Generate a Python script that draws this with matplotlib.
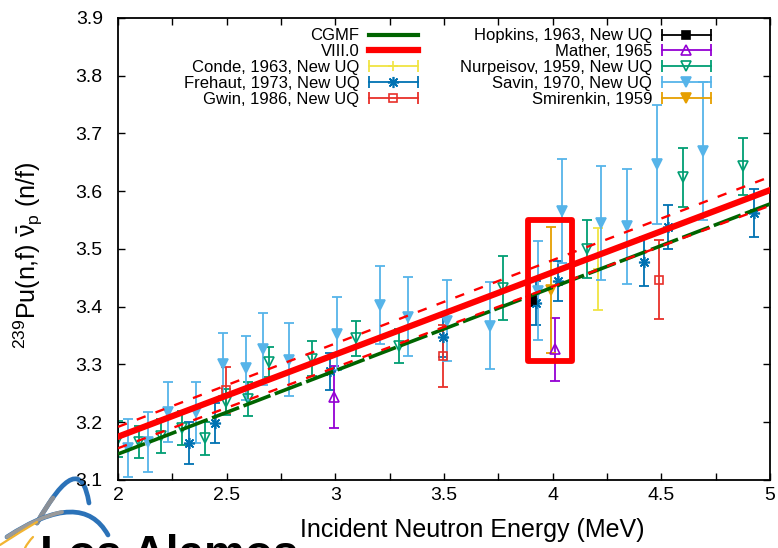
import numpy as np
import matplotlib.pyplot as plt
from matplotlib.lines import Line2D
from matplotlib.legend_handler import HandlerBase
from matplotlib.patches import Rectangle, PathPatch
from matplotlib.path import Path

plt.rcParams['font.family'] = ['Liberation Sans', 'DejaVu Sans']
plt.rcParams['mathtext.fontset'] = 'custom'
plt.rcParams['mathtext.rm'] = 'Liberation Sans'
plt.rcParams['mathtext.it'] = 'Liberation Sans:italic'

# evaluations (straight lines over 2-5 MeV)
e_line = [2.0, 5.0]
cgmf = [3.145, 3.578]
viii0 = [3.175, 3.602]
viii0_hi = [3.192, 3.625]
viii0_lo = [3.155, 3.575]

# experimental data: energy (MeV), nubar, uncertainty
conde_e = [4.209]
conde_v = [3.465]
conde_err = [0.071]

frehaut_e = [2.327, 2.447, 2.976, 3.496, 3.924, 4.025, 4.421, 4.531, 4.927]
frehaut_v = [3.164, 3.199, 3.288, 3.348, 3.407, 3.445, 3.478, 3.538, 3.562]
frehaut_err = [0.036, 0.035, 0.032, 0.035, 0.038, 0.035, 0.042, 0.038, 0.042]

gwin_e = [2.497, 3.496, 4.490]
gwin_v = [3.255, 3.315, 3.447]
gwin_err = [0.040, 0.054, 0.068]

hopkins_e = [3.905]
hopkins_v = [3.411]
hopkins_err = [0.010]

mather_e = [2.995, 4.011]
mather_v = [3.244, 3.326]
mather_err = [0.054, 0.055]

nurpeisov_e = [2.0, 2.097, 2.198, 2.295, 2.40, 2.497, 2.598, 2.695, 2.893,
               3.095, 3.293, 3.772, 4.158, 4.60, 4.876]
nurpeisov_v = [3.171, 3.166, 3.176, 3.190, 3.172, 3.235, 3.240, 3.304, 3.310,
               3.345, 3.332, 3.432, 3.500, 3.624, 3.643]
nurpeisov_err = [0.032, 0.028, 0.030, 0.030, 0.028, 0.022, 0.030, 0.026, 0.030,
                 0.030, 0.030, 0.055, 0.051, 0.051, 0.050]

savin_e = [2.046, 2.138, 2.230, 2.359, 2.483, 2.589, 2.667, 2.787, 3.008, 3.206,
           3.335, 3.514, 3.712, 3.933, 4.043, 4.223, 4.342, 4.480, 4.692]
savin_v = [3.155, 3.166, 3.218, 3.217, 3.300, 3.294, 3.327, 3.308, 3.353, 3.403,
           3.383, 3.376, 3.367, 3.428, 3.566, 3.545, 3.539, 3.647, 3.670]
savin_err = [0.050, 0.052, 0.052, 0.053, 0.055, 0.055, 0.063, 0.063, 0.063, 0.068,
             0.068, 0.070, 0.075, 0.085, 0.090, 0.099, 0.099, 0.103, 0.120]

smirenkin_e = [3.993]
smirenkin_v = [3.429]
smirenkin_err = [0.109]

# highlighted region
box_e = [3.885, 4.088]
box_v = [3.306, 3.550]


class HandlerHErr(HandlerBase):
    # gnuplot-like key sample: horizontal bar with end caps and a centre marker
    def create_artists(self, legend, orig, xdescent, ydescent, width, height,
                       fontsize, trans):
        y = height / 2 - ydescent
        x0, x1 = -xdescent, -xdescent + width
        c = orig.get_color()
        bar = Line2D([x0, x1], [y, y], color=c, lw=1.3)
        caps = Line2D([x0, x1], [y, y], ls='none', marker='|', ms=8, mew=1.3, color=c)
        mk = Line2D([(x0 + x1) / 2], [y], ls='none', marker=orig.get_marker(),
                    ms=orig.get_markersize(), mfc=orig.get_markerfacecolor(),
                    mec=c, mew=orig.get_markeredgewidth())
        for a in (bar, caps, mk):
            a.set_transform(trans)
        return [bar, caps, mk]


fig = plt.figure(figsize=(7.78, 5.48), dpi=100)
ax = fig.add_axes([0.1517, 0.1241, 0.838, 0.8431])

datasets = [
    ('Conde, 1963, New UQ', conde_e, conde_v, conde_err, '#f0e442', '+', 7, 'full'),
    ('Frehaut, 1973, New UQ', frehaut_e, frehaut_v, frehaut_err, '#0072b2', (8, 2, 0), 8, 'full'),
    ('Gwin, 1986, New UQ', gwin_e, gwin_v, gwin_err, '#e8302a', 's', 6, 'none'),
    ('Hopkins, 1963, New UQ', hopkins_e, hopkins_v, hopkins_err, 'black', 's', 6, 'full'),
    ('Mather, 1965', mather_e, mather_v, mather_err, '#9400d3', '^', 6.5, 'none'),
    ('Nurpeisov, 1959, New UQ', nurpeisov_e, nurpeisov_v, nurpeisov_err, '#009e73', 'v', 6.5, 'none'),
    ('Savin, 1970, New UQ', savin_e, savin_v, savin_err, '#56b4e9', 'v', 6.5, 'full'),
    ('Smirenkin, 1959', smirenkin_e, smirenkin_v, smirenkin_err, '#e69f00', 'v', 6.5, 'full'),
]

handles = [Line2D([], [], color='#006400', lw=3),
           Line2D([], [], color='red', lw=4.5)]
labels = ['CGMF', 'VIII.0']
hmap = {}
for name, e, v, err, c, m, ms, fill in datasets:
    mfc = c if fill == 'full' else 'none'
    ax.errorbar(e, v, yerr=err, fmt='none', ecolor=c, elinewidth=1.3,
                capsize=3.5, capthick=1.3, zorder=2)
    ax.plot(e, v, ls='none', marker=m, ms=ms, mfc=mfc, mec=c, mew=1.2, zorder=2.5)
    h = Line2D([], [], color=c, marker=m, ms=ms, mfc=mfc, mec=c, mew=1.2)
    hmap[h] = HandlerHErr()
    handles.append(h)
    labels.append(name)

# evaluations
ax.plot(e_line, viii0_hi, color='red', lw=1.7, dashes=(4, 4.5), zorder=3)
ax.plot(e_line, cgmf, color='#006400', lw=2.6, dashes=(8, 1.3), zorder=3)
ax.plot(e_line, viii0_lo, color='red', lw=1.7, dashes=(4, 4.5), zorder=3.1)
ax.plot(e_line, viii0, color='red', lw=4.5, zorder=3.2)

ax.add_patch(Rectangle((box_e[0], box_v[0]), box_e[1] - box_e[0], box_v[1] - box_v[0],
                       fill=False, ec='red', lw=4.2, joinstyle='round', zorder=4))

ax.set_xlim(2, 5)
ax.set_ylim(3.1, 3.9)
ax.set_xticks(np.arange(2, 5.01, 0.5))
ax.set_xticks(np.arange(2.25, 5, 0.5), minor=True)
ax.set_xticklabels(['%g' % t for t in np.arange(2, 5.01, 0.5)])
ax.set_yticks(np.arange(3.1, 3.91, 0.1))
ax.set_yticklabels(['%.1f' % t for t in np.arange(3.1, 3.91, 0.1)])
ax.tick_params(which='both', direction='in', top=True, right=True, length=5, width=1)
ax.tick_params(axis='x', labelsize=14, pad=5)
ax.tick_params(axis='y', labelsize=14, pad=11)
for s in ax.spines.values():
    s.set_linewidth(1.3)

ax.set_xlabel('Incident Neutron Energy (MeV)', fontsize=18)
ax.xaxis.set_label_coords(0.543, -0.082)
ax.set_ylabel(r'$^{239}$Pu(n,f) $\bar{\mathrm{\nu}}_\mathrm{p}$ (n/f)', fontsize=18)
ax.yaxis.set_label_coords(-0.112, 0.487)

ax.legend(handles, labels, handler_map=hmap, ncol=2, markerfirst=False,
          loc='upper right', bbox_to_anchor=(719 / 778, 1 - 20 / 548),
          bbox_transform=fig.transFigure, frameon=False, fontsize=12,
          handlelength=2.9, labelspacing=0.05, columnspacing=2.55,
          handletextpad=0.6, borderpad=0)

# Los Alamos logo (decoration, partly cut off at the bottom)
lax = fig.add_axes([0, 0, 1, 1], zorder=-1)
lax.set_xlim(0, 778)
lax.set_ylim(548, 0)
lax.axis('off')
for verts, col, lw in [
    ([(37, 523), (80, 446), (89, 503)], '#2b72b8', 3.4),
    ([(37, 523), (45, 508), (53, 498)], '#8a8f96', 3.4),
    ([(7, 537), (82, 488), (108, 535)], '#2b72b8', 3.4),
    ([(7, 537), (35, 518), (62, 512)], '#9a9a9a', 2.8),
    ([(0, 545), (20, 532), (37, 522)], '#f2b431', 1.6),
    ([(25, 548), (28, 542), (33, 537)], '#f2b431', 1.6),
]:
    p = Path(verts, [Path.MOVETO, Path.CURVE3, Path.CURVE3])
    lax.add_patch(PathPatch(p, fill=False, ec=col, lw=lw, capstyle='round'))
fig.text(40 / 778, -0.037, 'Los Alamos', fontsize=33, fontweight='bold',
         color='black', ha='left', va='baseline')

fig.savefig('out.png', dpi=100)
